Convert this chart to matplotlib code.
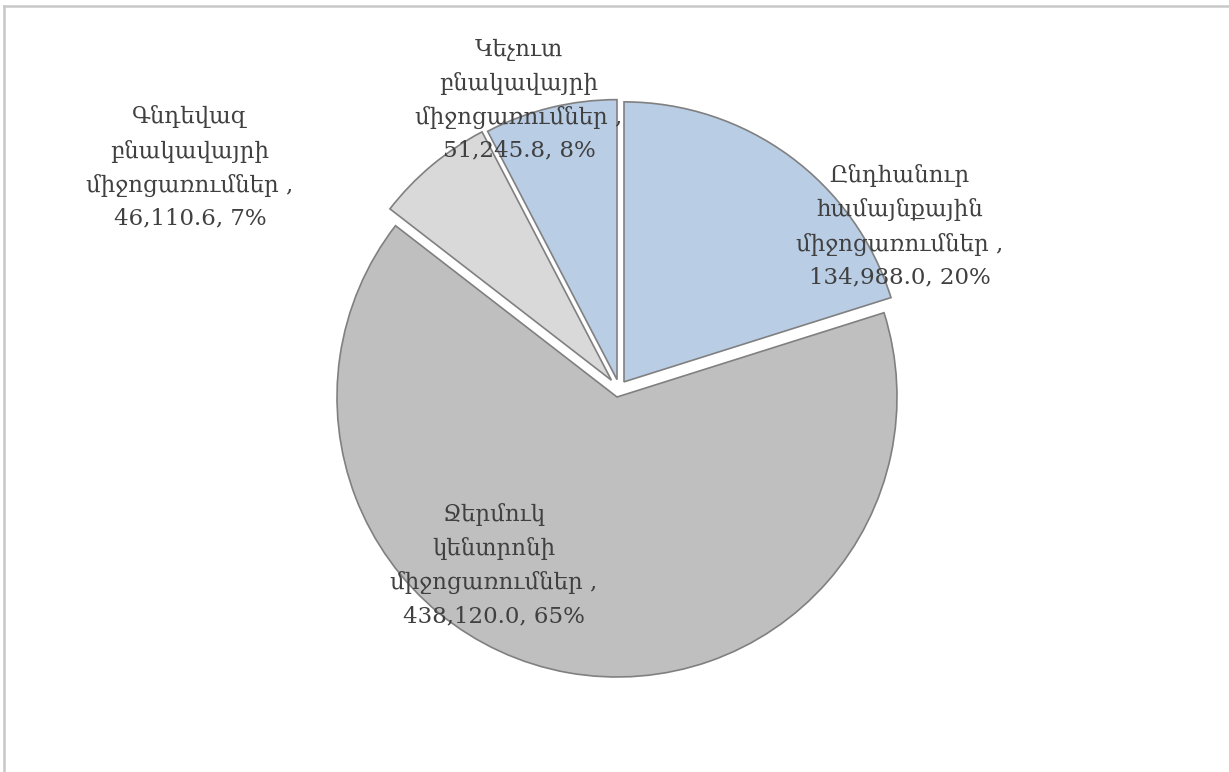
import matplotlib
matplotlib.use('Agg')
import matplotlib.pyplot as plt
from matplotlib.lines import Line2D

# slices, clockwise from 12 o'clock
names = ['Ընդհանուր\nհամայնքային\nմիջոցառումներ',
         'Ջերմուկ\nկենտրոնի\nմիջոցառումներ',
         'Գնդեվազ\nբնակավայրի\nմիջոցառումներ',
         'Կեչուտ\nբնակավայրի\nմիջոցառումներ']
values = [134988.0, 438120.0, 46110.6, 51245.8]
colors = ['#B9CDE5', '#BFBFBF', '#D9D9D9', '#B9CDE5']
# pulled-out slices (offset of each wedge, pie radius = 1)
shift = [(0.025, 0.054), (0.0, 0.0), (-0.02, 0.06), (0.0, 0.062)]
# where each label sits
label_pos = [(1.01, 0.61), (-0.44, -0.60), (-1.525, 0.82), (-0.35, 1.06)]

plt.rcParams['font.family'] = ['DejaVu Serif', 'DejaVu Sans']

W, H = 1229, 772
fig = plt.figure(figsize=(W / 100, H / 100), dpi=100)
ax = fig.add_axes([0, 0, 1, 1])

cx, cy, r = 617, 397, 280
wedges, _ = ax.pie(values, colors=colors, startangle=90,
                   counterclock=False, radius=1,
                   wedgeprops=dict(edgecolor='#808080', linewidth=1.2))
for w, c in zip(wedges, shift):
    w.set_center(c)

total = sum(values)
for name, v, (lx, ly) in zip(names, values, label_pos):
    pct = round(v / total * 100)
    txt = '%s ,\n%s, %d%%' % (name, format(v, ',.1f'), pct)
    ax.text(lx, ly, txt, ha='center', va='center', fontsize=16.5,
            color='#404040', linespacing=1.62)

ax.set_xlim((0 - cx) / r, (W - cx) / r)
ax.set_ylim((cy - H) / r, cy / r)
ax.set_aspect('auto')
ax.axis('off')

# chart area frame (top and left visible)
fig.add_artist(Line2D([4 / W, 1], [1 - 5.5 / H, 1 - 5.5 / H], color='#C8C8C8', linewidth=1.8))
fig.add_artist(Line2D([4 / W, 4 / W], [0, 1 - 5.5 / H], color='#C8C8C8', linewidth=1.8))

fig.savefig('out.png', dpi=100, facecolor='white')
